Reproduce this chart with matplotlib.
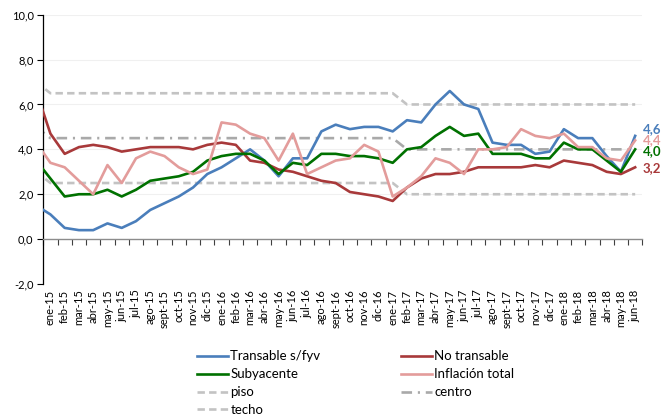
import matplotlib.pyplot as plt
import numpy as np

plt.rcParams['font.family'] = ['Lato', 'DejaVu Sans']

# meses (dic-14 sólo se usa para el tramo inicial, queda fuera del eje)
meses = ['dic-14',
         'ene-15', 'feb-15', 'mar-15', 'abr-15', 'may-15', 'jun-15', 'jul-15', 'ago-15',
         'sept-15', 'oct-15', 'nov-15', 'dic-15',
         'ene-16', 'feb-16', 'mar-16', 'abr-16', 'may-16', 'jun-16', 'jul-16', 'ago-16',
         'sept-16', 'oct-16', 'nov-16', 'dic-16',
         'ene-17', 'feb-17', 'mar-17', 'abr-17', 'may-17', 'jun-17', 'jul-17', 'ago-17',
         'sept-17', 'oct-17', 'nov-17', 'dic-17',
         'ene-18', 'feb-18', 'mar-18', 'abr-18', 'may-18', 'jun-18']

transable = [1.5,
             1.1, 0.5, 0.4, 0.4, 0.7, 0.5, 0.8, 1.3, 1.6, 1.9, 2.3, 2.9,
             3.2, 3.6, 4.0, 3.5, 2.8, 3.6, 3.6, 4.8, 5.1, 4.9, 5.0, 5.0,
             4.8, 5.3, 5.2, 6.0, 6.6, 6.0, 5.8, 4.3, 4.2, 4.2, 3.8, 3.9,
             4.9, 4.5, 4.5, 3.7, 3.0, 4.6]
no_transable = [6.6,
                4.7, 3.8, 4.1, 4.2, 4.1, 3.9, 4.0, 4.1, 4.1, 4.1, 4.0, 4.2,
                4.3, 4.2, 3.5, 3.4, 3.1, 3.0, 2.8, 2.6, 2.5, 2.1, 2.0, 1.9,
                1.7, 2.3, 2.7, 2.9, 2.9, 3.0, 3.2, 3.2, 3.2, 3.2, 3.3, 3.2,
                3.5, 3.4, 3.3, 3.0, 2.9, 3.2]
subyacente = [3.5,
              2.7, 1.9, 2.0, 2.0, 2.2, 1.9, 2.2, 2.6, 2.7, 2.8, 3.0, 3.5,
              3.7, 3.8, 3.8, 3.5, 2.9, 3.4, 3.3, 3.8, 3.8, 3.7, 3.7, 3.6,
              3.4, 4.0, 4.1, 4.6, 5.0, 4.6, 4.7, 3.8, 3.8, 3.8, 3.6, 3.6,
              4.3, 4.0, 4.0, 3.5, 3.0, 4.0]
inflacion = [4.3,
             3.4, 3.2, 2.6, 2.0, 3.3, 2.5, 3.6, 3.9, 3.7, 3.2, 2.9, 3.1,
             5.2, 5.1, 4.7, 4.5, 3.5, 4.7, 2.9, 3.2, 3.5, 3.6, 4.2, 3.9,
             1.9, 2.3, 2.8, 3.6, 3.4, 2.9, 4.0, 4.0, 4.1, 4.9, 4.6, 4.5,
             4.7, 4.1, 4.1, 3.6, 3.5, 4.4]
piso = [3.0,
        2.5, 2.5, 2.5, 2.5, 2.5, 2.5, 2.5, 2.5, 2.5, 2.5, 2.5, 2.5,
        2.5, 2.5, 2.5, 2.5, 2.5, 2.5, 2.5, 2.5, 2.5, 2.5, 2.5, 2.5,
        2.5, 2.0, 2.0, 2.0, 2.0, 2.0, 2.0, 2.0, 2.0, 2.0, 2.0, 2.0,
        2.0, 2.0, 2.0, 2.0, 2.0, 2.0]
centro = [5.0,
          4.5, 4.5, 4.5, 4.5, 4.5, 4.5, 4.5, 4.5, 4.5, 4.5, 4.5, 4.5,
          4.5, 4.5, 4.5, 4.5, 4.5, 4.5, 4.5, 4.5, 4.5, 4.5, 4.5, 4.5,
          4.5, 4.0, 4.0, 4.0, 4.0, 4.0, 4.0, 4.0, 4.0, 4.0, 4.0, 4.0,
          4.0, 4.0, 4.0, 4.0, 4.0, 4.0]
techo = [7.0,
         6.5, 6.5, 6.5, 6.5, 6.5, 6.5, 6.5, 6.5, 6.5, 6.5, 6.5, 6.5,
         6.5, 6.5, 6.5, 6.5, 6.5, 6.5, 6.5, 6.5, 6.5, 6.5, 6.5, 6.5,
         6.5, 6.0, 6.0, 6.0, 6.0, 6.0, 6.0, 6.0, 6.0, 6.0, 6.0, 6.0,
         6.0, 6.0, 6.0, 6.0, 6.0, 6.0]

c_azul = '#4a7ebb'
c_rojo = '#a8393a'
c_verde = '#007100'
c_rosa = '#e39c9b'
c_gris = '#c3c3c3'
c_gris2 = '#a9a9a9'


def fmt(v):
    return '{:.1f}'.format(v).replace('.', ',')


x = np.arange(len(meses)) - 1

fig = plt.figure(figsize=(6.64, 4.2), dpi=100)
ax = fig.add_axes([0.0652, 0.3238, 0.9021, 0.6412])

lw = 1.9
h_piso, = ax.plot(x, piso, color=c_gris, lw=lw, ls=(0, (2.8, 1.6)), label='piso', zorder=2)
h_techo, = ax.plot(x, techo, color=c_gris, lw=lw, ls=(0, (2.8, 1.6)), label='techo', zorder=2)
h_centro, = ax.plot(x, centro, color=c_gris2, lw=lw, ls=(0, (4, 2.2, 0.8, 2.2)), label='centro', zorder=2)
h_t, = ax.plot(x, transable, color=c_azul, lw=lw, label='Transable s/fyv', zorder=3)
h_nt, = ax.plot(x, no_transable, color=c_rojo, lw=lw, label='No transable', zorder=3)
h_s, = ax.plot(x, subyacente, color=c_verde, lw=lw, label='Subyacente', zorder=3)
h_i, = ax.plot(x, inflacion, color=c_rosa, lw=lw, label='Inflación total', zorder=3)

ax.set_xlim(-0.5, len(meses) - 1.5)
ax.set_ylim(-2, 10)

# eje y
ax.set_yticks(np.arange(-2, 10.1, 2))
ax.set_yticklabels([fmt(v) for v in np.arange(-2, 10.1, 2)])
ax.tick_params(axis='y', length=4, width=0.8, labelsize=8, pad=3, colors='black')
for v in np.arange(2, 10.1, 2):
    ax.axhline(v, color='#f0f0f0', lw=0.8, zorder=0)

for s in ['top', 'right']:
    ax.spines[s].set_visible(False)
ax.spines['left'].set_linewidth(0.9)
ax.spines['bottom'].set_position(('data', 0))
ax.spines['bottom'].set_color('#8c8c8c')
ax.spines['bottom'].set_linewidth(1.0)

# marcas del eje x en los bordes de cada categoría
ax.set_xticks(np.arange(-0.5, len(meses) - 1, 1))
ax.set_xticklabels([])
ax.tick_params(axis='x', length=4, width=0.8, colors='#404040')

# etiquetas de meses abajo
sec = ax.secondary_xaxis('bottom')
sec.set_xticks(x[1:])
sec.set_xticklabels(meses[1:], rotation=90, fontsize=8)
sec.tick_params(length=0, pad=4)
sec.spines['bottom'].set_visible(False)

# valores finales
finales = [(transable, c_azul, 4.8), (inflacion, c_rosa, 0.3), (subyacente, c_verde, -1.5), (no_transable, c_rojo, -0.2)]
for serie, col, dy in finales:
    ax.annotate(fmt(serie[-1]), xy=(x[-1], serie[-1]), xytext=(5.5, dy),
                textcoords='offset points', color=col, fontsize=9.5, fontweight='bold',
                va='center', ha='left', annotation_clip=False)

handles = [h_t, h_s, h_piso, h_techo, h_nt, h_i, h_centro]
fig.legend(handles=handles, labels=[h.get_label() for h in handles],
           loc='upper left', bbox_to_anchor=(0.296, 0.166), ncol=2, frameon=False,
           fontsize=9.5, handlelength=2.4, handletextpad=0.15, columnspacing=6.1,
           labelspacing=0.45, borderpad=0, borderaxespad=0)

fig.savefig('out.png', dpi=100)
